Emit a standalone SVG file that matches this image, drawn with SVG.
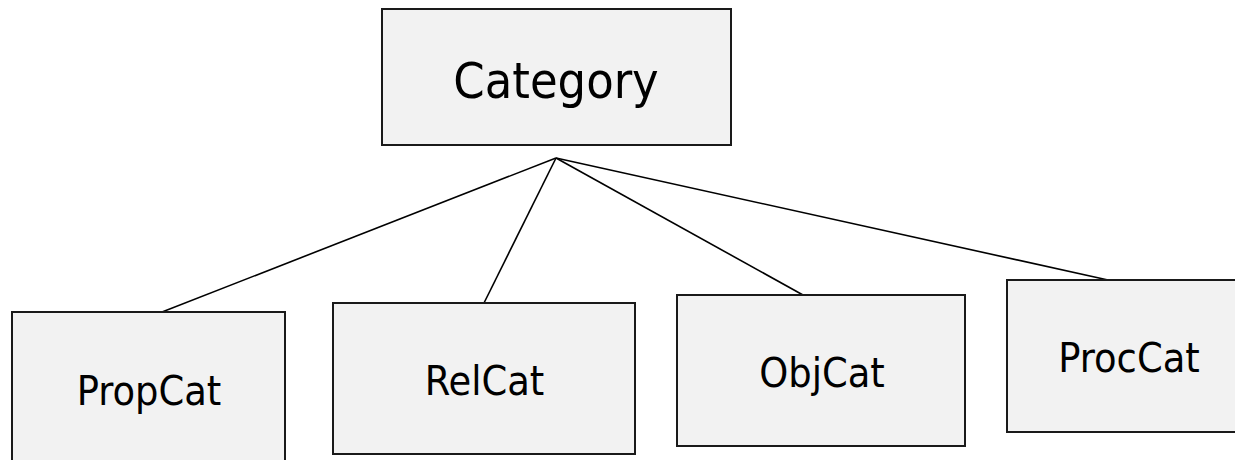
<svg xmlns="http://www.w3.org/2000/svg" width="1235" height="460" viewBox="0 0 1235 460">
  <style>
    .box { fill: #f2f2f2; stroke: #1a1a1a; stroke-width: 2; }
    .lbl { font-family: "DejaVu Sans", "Liberation Sans", sans-serif; font-stretch: condensed; fill: #000; text-anchor: middle; }
    .edge { stroke: #000; stroke-width: 1.6; fill: none; }
  </style>
  <rect width="1235" height="460" fill="#ffffff"/>

  <g id="connectors">
    <line class="edge" x1="556" y1="158" x2="162" y2="312"/>
    <line class="edge" x1="556" y1="158" x2="484" y2="303"/>
    <line class="edge" x1="556" y1="158" x2="803" y2="295"/>
    <line class="edge" x1="556" y1="158" x2="1108" y2="280"/>
  </g>

  <g id="category">
    <rect class="box" x="382" y="9" width="349" height="136"/>
    <text class="lbl" x="556" y="98" font-size="50">Category</text>
  </g>

  <g id="propcat">
    <rect class="box" x="12" y="312" width="273" height="160"/>
    <text class="lbl" x="149" y="405" font-size="41">PropCat</text>
  </g>

  <g id="relcat">
    <rect class="box" x="333" y="303" width="302" height="151"/>
    <text class="lbl" x="484.5" y="395" font-size="41">RelCat</text>
  </g>

  <g id="objcat">
    <rect class="box" x="677" y="295" width="288" height="151"/>
    <text class="lbl" x="822" y="387" font-size="41">ObjCat</text>
  </g>

  <g id="proccat">
    <rect class="box" x="1007" y="280" width="240" height="152"/>
    <text class="lbl" x="1129" y="372" font-size="41">ProcCat</text>
  </g>
</svg>
